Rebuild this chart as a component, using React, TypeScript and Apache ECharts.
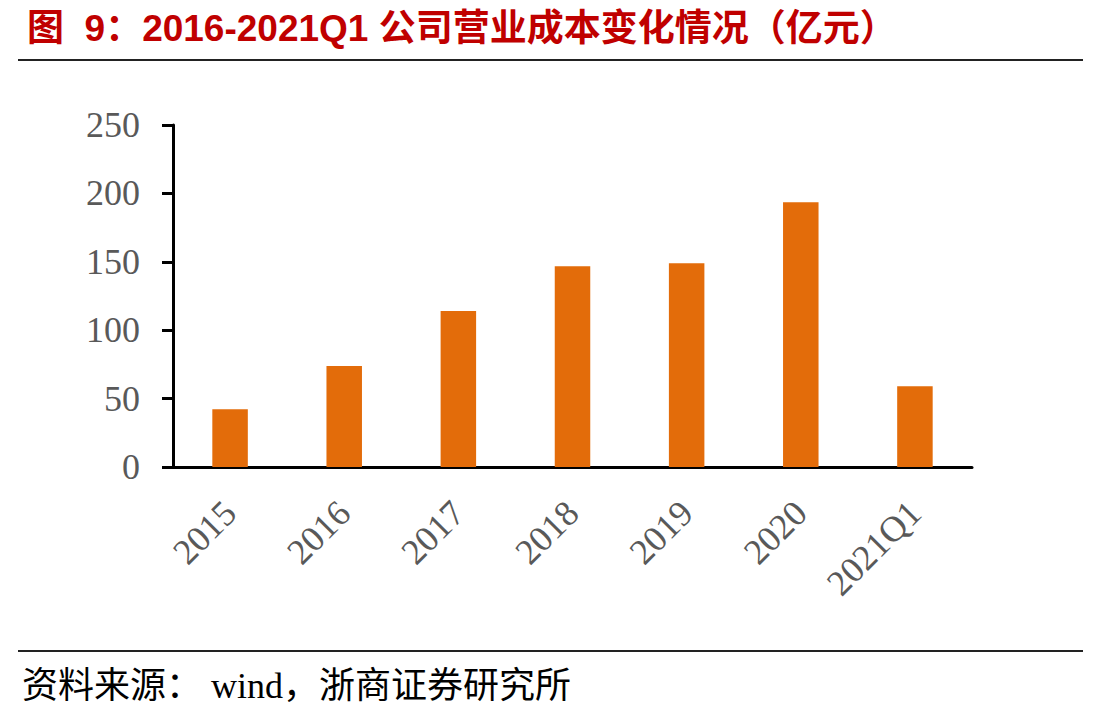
import React, { useEffect, useRef } from "react";
import * as echarts from "echarts";

const categories = ["2015", "2016", "2017", "2018", "2019", "2020", "2021Q1"];
const costValues = [42.2, 73.8, 114.0, 146.7, 148.9, 193.5, 59.0];
const yTicks = { min: 0, max: 250, interval: 50 };
const titleText = "图  9：2016-2021Q1 公司营业成本变化情况（亿元）";
const sourceText = "资料来源： wind，浙商证券研究所";

export default function App() {
  const ref = useRef<HTMLDivElement>(null);
  useEffect(() => {
    if (!ref.current) return;
    const chart = echarts.init(ref.current, null, { renderer: "svg" });
    chart.setOption({
      animation: false,
      backgroundColor: "#ffffff",
      title: {
        text: titleText,
        left: 22,
        top: 5,
        textStyle: {
          color: "#C00000",
          fontSize: 37,
          fontWeight: "bold",
          fontFamily: "Liberation Sans, Noto Sans CJK SC, sans-serif",
        },
      },
      graphic: [
        {
          type: "line",
          shape: { x1: 18, y1: 60, x2: 1083, y2: 60 },
          style: { stroke: "#222222", lineWidth: 2 },
        },
        {
          type: "line",
          shape: { x1: 18, y1: 651, x2: 1083, y2: 651 },
          style: { stroke: "#222222", lineWidth: 2 },
        },
        {
          type: "text",
          left: 22,
          top: 668,
          style: {
            text: sourceText,
            fill: "#000000",
            fontSize: 36,
            fontFamily: "Liberation Serif, Noto Sans CJK SC, serif",
          },
        },
      ],
      grid: { left: 173, right: 141, top: 125, bottom: 251, containLabel: false },
      xAxis: {
        type: "category",
        data: categories,
        axisLine: { show: true, lineStyle: { color: "#000000", width: 3 } },
        axisTick: { show: false },
        axisLabel: {
          rotate: 45,
          margin: 40,
          color: "#595959",
          fontSize: 36,
          fontFamily: "Liberation Serif, serif",
        },
      },
      yAxis: {
        type: "value",
        min: yTicks.min,
        max: yTicks.max,
        interval: yTicks.interval,
        splitLine: { show: false },
        axisLine: { show: true, lineStyle: { color: "#000000", width: 3 } },
        axisTick: { show: true, inside: false, length: 11, lineStyle: { color: "#000000", width: 3 } },
        axisLabel: {
          margin: 33,
          color: "#595959",
          fontSize: 36,
          fontFamily: "Liberation Serif, serif",
        },
      },
      series: [
        {
          type: "bar",
          data: costValues,
          barWidth: 35.5,
          itemStyle: { color: "#E36C0A" },
        },
      ],
    });
    return () => chart.dispose();
  }, []);
  return <div ref={ref} style={{ width: 1113, height: 718, position: "absolute", left: 0, top: 0 }} />;
}
